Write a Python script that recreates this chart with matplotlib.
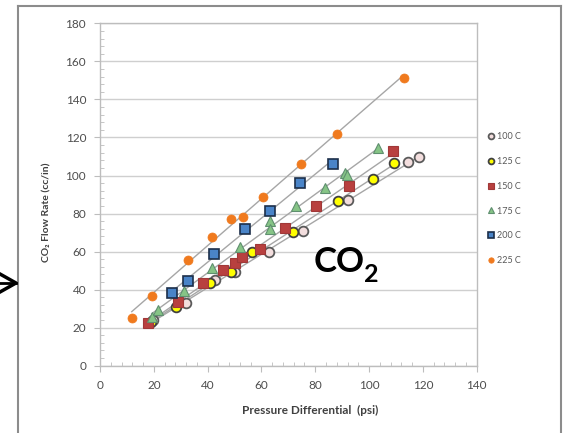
import numpy as np
import matplotlib.pyplot as plt
from matplotlib.lines import Line2D
from matplotlib.ticker import MultipleLocator

labels = ["100 C", "125 C", "150 C", "175 C", "200 C", "225 C"]

x100 = [19.8, 31.8, 42.7, 50.3, 62.7, 75.3, 92.3, 114.6, 118.6]
y100 = [24.0, 33.1, 45.1, 49.4, 60.0, 71.0, 87.3, 107.3, 109.9]
x125 = [19.0, 28.2, 40.9, 48.6, 56.4, 71.6, 88.6, 101.6, 109.3]
y125 = [23.1, 31.0, 43.3, 49.4, 60.0, 70.1, 86.7, 98.0, 106.7]
x150 = [18.0, 28.9, 38.2, 45.8, 50.2, 52.7, 59.5, 68.8, 80.3, 92.7, 108.8]
y150 = [22.6, 33.6, 43.6, 50.3, 53.8, 57.3, 61.2, 72.2, 83.9, 94.6, 112.9]
x175 = [19.2, 21.4, 31.3, 41.5, 52.1, 63.3, 63.3, 72.8, 83.8, 91.1, 91.7, 103.5]
y175 = [25.4, 29.3, 39.4, 51.5, 62.6, 76.2, 71.7, 84.0, 93.6, 101.2, 100.2, 114.3]
x200 = [26.6, 32.7, 42.4, 54.0, 63.2, 74.4, 86.7]
y200 = [38.0, 44.5, 58.7, 71.9, 81.5, 96.2, 106.0]
x225 = [11.8, 19.5, 32.8, 41.5, 48.6, 53.3, 60.7, 74.6, 88.0, 112.9]
y225 = [25.2, 36.6, 55.4, 67.8, 77.1, 78.3, 88.9, 106.0, 121.8, 151.2]

xs = [x100, x125, x150, x175, x200, x225]
ys = [y100, y125, y150, y175, y200, y225]

styles = [
    dict(marker="o", ms=7, mfc="#f3dede", mec="#5a5a5a", mew=1.3),
    dict(marker="o", ms=7, mfc="#ffff00", mec="#404040", mew=1.3),
    dict(marker="s", ms=7.5, mfc="#b8403f", mec="#a03838", mew=0.8),
    dict(marker="^", ms=7.5, mfc="#86c486", mec="#5f8f6f", mew=0.8),
    dict(marker="s", ms=7.5, mfc="#4a84c8", mec="#1c2f4a", mew=1.2),
    dict(marker="o", ms=6.5, mfc="#f07a1e", mec="#f07a1e", mew=0.5),
]

plt.rcParams['font.family'] = ['Lato', 'DejaVu Sans']

fig = plt.figure(figsize=(5.65, 4.33), dpi=100)
ax = fig.add_axes([0.177, 0.1554, 0.6667, 0.7906])

handles = []
for x, y, st, lab in zip(xs, ys, styles, labels):
    x = np.array(x)
    y = np.array(y)
    # excel style linear trendline over the data range
    k, b = np.polyfit(x, y, 1)
    xl = np.array([x.min(), x.max()])
    ax.plot(xl, k * xl + b, color="#a6a6a6", lw=1.0, zorder=2)
    h, = ax.plot(x, y, ls="none", zorder=3, label=lab, **st)
    handles.append(h)

ax.set_xlim(0, 140)
ax.set_ylim(0, 180)
ax.xaxis.set_major_locator(MultipleLocator(20))
ax.yaxis.set_major_locator(MultipleLocator(20))
ax.xaxis.set_minor_locator(MultipleLocator(4))
ax.yaxis.set_minor_locator(MultipleLocator(4))
ax.grid(axis="y", which="major", color="#cfcfcf", lw=1.0, zorder=0)
ax.set_axisbelow(True)

for s in ax.spines.values():
    s.set_color("#bdbdbd")
    s.set_linewidth(1.0)
ax.tick_params(which="major", direction="out", length=4, color="#bdbdbd",
               labelsize=8.5, labelcolor="#4d4d4d", pad=6)
ax.tick_params(which="minor", direction="in", length=3, color="#bdbdbd")

fig.text(0.083, 0.51, "CO₂ Flow Rate (cc/in)", rotation=90, ha="center",
         va="center", fontsize=7.5, fontweight="bold", color="#404040")
fig.text(0.549, 0.053, "Pressure Differential  (psi)", ha="center",
         va="center", fontsize=8.5, fontweight="bold", color="#404040")

# big CO2 annotation
fig.text(0.555, 0.372, "CO", fontsize=25, fontweight="bold", color="black",
         ha="left", va="baseline")
fig.text(0.645, 0.348, "2", fontsize=18, fontweight="bold", color="black",
         ha="left", va="baseline")

leg = fig.legend(handles=handles, loc="upper left",
                 bbox_to_anchor=(0.855, 0.705), frameon=False, fontsize=6.5,
                 markerscale=0.6, handlelength=0.8, handletextpad=0.2,
                 labelspacing=1.75, borderpad=0)
for t in leg.get_texts():
    t.set_color("#595959")

# outer frame and arrow
gc = "#8c8c8c"
def fline(xp, yp, **kw):
    fig.add_artist(Line2D([v / 565 for v in xp], [1 - v / 433 for v in yp],
                          transform=fig.transFigure, **kw))

fline([18, 18], [6, 433], color=gc, lw=1.5)
fline([18, 561], [6, 6], color=gc, lw=1.5)
fline([561, 561], [6, 433], color=gc, lw=1.5)
fline([0, 16, 0], [274, 283, 292], color="black", lw=2.5)
fline([0, 16], [283, 283], color="black", lw=2.0)

fig.savefig("out.png", dpi=100)
